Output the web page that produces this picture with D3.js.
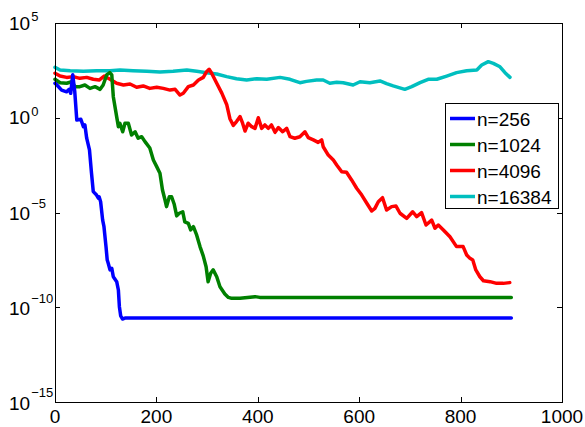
<!DOCTYPE html>
<html>
<head>
<meta charset="utf-8">
<script src="https://cdn.jsdelivr.net/npm/d3@7"></script>
<style>
  body { margin: 0; background: #fff; }
  text { font-family: "Liberation Sans", Arial, Helvetica, sans-serif; fill: #000; }
</style>
</head>
<body>
<script>
// iteration numbers and log10 of the residual
var n256Iter = [0, 2, 13, 23, 28, 31, 35, 39, 43, 51, 56, 59, 62.5, 68, 72, 75.5, 82, 85.5, 87, 90, 94, 96.6, 100.6, 103, 105, 108.5, 112, 115, 121.7, 125, 127, 129.6, 133, 138, 900];
var n256Log  = [1.82, 1.78, 1.46, 1.37, 1.50, 1.29, 2.27, 1.37, -0.12, -0.08, -0.47, -0.38, -1.08, -1.70, -2.92, -3.90, -4.08, -4.24, -4.17, -4.43, -5.40, -5.75, -6.80, -7.51, -7.68, -8.03, -7.95, -8.39, -8.65, -9.09, -9.97, -10.46, -10.62, -10.57, -10.57];

var n1024Iter = [0, 10, 23, 33, 39.5, 49, 59, 69, 79, 89, 95, 102, 108, 112, 115, 121.6, 125, 128, 133.5, 138, 144.6, 151, 158, 164, 171, 177.5, 187, 194, 200.6, 207, 212, 217, 220, 225.5, 230, 235, 240, 245, 252, 256, 263, 267.6, 273, 279.5, 286, 292.5, 298, 302, 307, 312, 319, 325.4, 335, 342, 348.5, 365, 394.5, 404, 900];
var n1024Log  = [2.03, 1.85, 1.82, 1.90, 1.64, 1.64, 1.73, 1.55, 1.64, 1.50, 1.73, 2.26, 2.38, 2.26, 1.11, 0.06, -0.47, -0.29, -0.74, -0.29, -0.29, -0.91, -0.74, -1.08, -1.00, -1.26, -1.60, -2.23, -2.58, -2.93, -3.81, -4.34, -4.69, -4.17, -4.17, -4.55, -5.18, -5.04, -4.96, -5.49, -5.57, -5.92, -5.75, -6.20, -6.80, -7.30, -7.86, -8.65, -8.21, -8.03, -8.39, -8.92, -9.30, -9.48, -9.53, -9.53, -9.44, -9.48, -9.48];

var n4096Iter = [0, 10, 23, 36, 49, 62.5, 75.5, 87, 97, 108.5, 121.6, 135, 148, 161, 174, 187, 200.6, 213.6, 227, 237, 246.5, 253, 263, 273, 283, 292.5, 299, 304, 309, 319, 329, 338.6, 345, 351.7, 358, 365, 370, 374.8, 381, 388, 394.5, 401, 407.7, 414, 420.7, 427, 434, 440.6, 449, 457, 463.5, 473, 483, 493, 499.6, 509.5, 519, 526, 529, 539, 549, 555.6, 565.5, 575, 585, 595, 605, 615, 624.7, 631, 637.7, 646, 654, 664, 672.6, 680.5, 693.7, 705.5, 713.4, 723, 731.8, 743, 749.5, 756, 766, 779, 792, 805, 812, 818.5, 824, 830, 838, 845, 858, 871, 884, 897];
var n4096Log  = [2.35, 2.20, 2.13, 2.17, 2.08, 2.13, 2.03, 1.99, 2.20, 2.03, 1.82, 1.73, 1.78, 1.61, 1.68, 1.55, 1.61, 1.55, 1.46, 1.50, 1.20, 1.29, 1.64, 1.73, 1.99, 2.13, 2.43, 2.56, 2.35, 1.82, 1.30, 0.70, -0.05, -0.40, -0.20, 0.06, -0.29, -0.70, -0.29, -0.47, -0.56, 0.00, -0.56, -0.38, -0.56, -0.38, -0.77, -0.52, -0.74, -0.56, -1.00, -1.08, -1.00, -0.74, -1.05, -1.17, -1.30, -1.17, -1.53, -1.97, -2.23, -2.49, -2.85, -2.88, -3.28, -3.72, -4.08, -4.51, -4.92, -4.78, -4.43, -4.22, -4.87, -4.69, -4.66, -5.04, -5.31, -4.96, -5.22, -5.01, -5.66, -5.40, -5.83, -5.66, -5.92, -6.28, -6.80, -6.80, -7.24, -7.42, -7.51, -8.03, -8.39, -8.60, -8.65, -8.74, -8.74, -8.70];

var n16384Iter = [0, 10, 30, 56, 82, 108.5, 128, 154, 181, 207, 233, 260, 279.5, 299, 319, 338.6, 358, 378, 398, 417.6, 444, 463.5, 483, 496, 516, 529, 542, 555.6, 568.6, 588, 601.6, 621, 641, 654, 667, 690, 703.6, 720, 736, 753, 772.6, 792, 812, 832, 841.6, 854.6, 864.5, 877.7, 887.6, 897.4];
var n16384Log  = [2.66, 2.52, 2.48, 2.45, 2.48, 2.48, 2.52, 2.48, 2.45, 2.41, 2.45, 2.52, 2.45, 2.38, 2.31, 2.17, 2.06, 1.99, 2.06, 2.03, 2.13, 2.03, 1.85, 1.92, 1.99, 1.99, 1.82, 1.87, 1.85, 1.73, 1.90, 1.85, 1.94, 1.80, 1.68, 1.50, 1.64, 1.85, 2.03, 2.03, 2.20, 2.38, 2.48, 2.52, 2.78, 2.96, 2.87, 2.69, 2.38, 2.13];

var seriesNames = ["n=256", "n=1024", "n=4096", "n=16384"];
var seriesColors = ["#0000ff", "#008000", "#ff0000", "#00bfbf"];
var xTicks = [0, 200, 400, 600, 800, 1000];
var yTickExps = [5, 0, -5, -10, -15];

var width = 585,
    height = 427,
    plotL = 55, plotR = 562, plotT = 23, plotB = 402;

var series = [
  {name: seriesNames[0], color: seriesColors[0], iter: n256Iter, lg: n256Log},
  {name: seriesNames[1], color: seriesColors[1], iter: n1024Iter, lg: n1024Log},
  {name: seriesNames[2], color: seriesColors[2], iter: n4096Iter, lg: n4096Log},
  {name: seriesNames[3], color: seriesColors[3], iter: n16384Iter, lg: n16384Log}
];

var x = d3.scaleLinear().domain([0, 1000]).range([plotL, plotR]);
var y = d3.scaleLog().domain([1e-15, 1e5]).range([plotB, plotT]);

var svg = d3.select("body").append("svg")
    .attr("width", width)
    .attr("height", height);

var line = d3.line()
    .x(function(d) { return x(d[0]); })
    .y(function(d) { return y(Math.pow(10, d[1])); });

// later series first so blue ends up on top
series.slice().reverse().forEach(function(s) {
  var pts = s.iter.map(function(it, i) { return [it, s.lg[i]]; });
  svg.append("path")
      .datum(pts)
      .attr("d", line)
      .attr("fill", "none")
      .attr("stroke", s.color)
      .attr("stroke-width", 3.5)
      .attr("stroke-linejoin", "round")
      .attr("stroke-linecap", "round");
});

// box
svg.append("rect")
    .attr("x", plotL + 0.5).attr("y", plotT + 0.5)
    .attr("width", plotR - plotL).attr("height", plotB - plotT)
    .attr("fill", "none").attr("stroke", "#000").attr("stroke-width", 1);

// ticks, inward on all four sides
var tl = 5;
xTicks.forEach(function(t) {
  var px = Math.round(x(t)) + 0.5;
  svg.append("line").attr("x1", px).attr("x2", px).attr("y1", plotB).attr("y2", plotB - tl).attr("stroke", "#000");
  svg.append("line").attr("x1", px).attr("x2", px).attr("y1", plotT).attr("y2", plotT + tl).attr("stroke", "#000");
  svg.append("text")
      .attr("x", x(t)).attr("y", 423)
      .attr("text-anchor", "middle")
      .style("font-size", "19px")
      .text(t);
});

yTickExps.forEach(function(e) {
  var py = Math.round(y(Math.pow(10, e))) + 0.5;
  svg.append("line").attr("x1", plotL).attr("x2", plotL + tl).attr("y1", py).attr("y2", py).attr("stroke", "#000");
  svg.append("line").attr("x1", plotR).attr("x2", plotR - tl).attr("y1", py).attr("y2", py).attr("stroke", "#000");
  var neg = e < 0;
  var base = y(Math.pow(10, e)) + (neg ? 7.8 : 6.5);
  var t = svg.append("text")
      .attr("x", 9).attr("y", base)
      .style("font-size", "19px");
  t.append("tspan").text("10");
  t.append("tspan")
      .attr("dy", neg ? -12.5 : -8.5)
      .attr("dx", 1)
      .style("font-size", "13px")
      .text(neg ? "\u2212" + (-e) : e);
});

// legend
var lg = svg.append("g");
lg.append("rect")
    .attr("x", 445.5).attr("y", 103.5)
    .attr("width", 113).attr("height", 105)
    .attr("fill", "#fff").attr("stroke", "#000").attr("stroke-width", 1);

series.forEach(function(s, i) {
  var ry = 118.5 + i * 26;
  lg.append("line")
      .attr("x1", 450).attr("x2", 475)
      .attr("y1", ry).attr("y2", ry)
      .attr("stroke", s.color).attr("stroke-width", 3.5);
  lg.append("text")
      .attr("x", 477).attr("y", ry + 7)
      .style("font-size", "19px")
      .text(s.name);
});
</script>
</body>
</html>
